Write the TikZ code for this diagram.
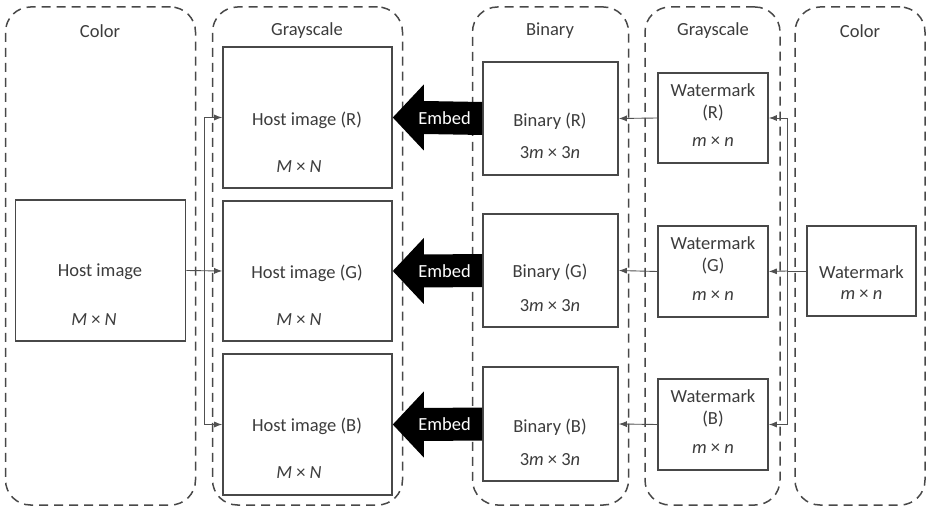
\documentclass[tikz,border=0pt]{standalone}
\usepackage{fontspec}
\setmainfont{Carlito}
\usetikzlibrary{calc,arrows.meta}
\definecolor{txtc}{HTML}{3C3C3C}
\definecolor{linec}{HTML}{484848}
\definecolor{connc}{HTML}{505050}
\newcommand{\tms}{\ ×\ }
\begin{document}
\begin{tikzpicture}[x=1pt,y=-1pt,
  every node/.style={font=\fontsize{18.5}{22}\selectfont, text=txtc, inner sep=0pt},
  panel/.style={draw=linec, line width=1.5pt, dash pattern=on 9pt off 6pt, rounded corners=25pt},
  box/.style={draw=linec, line width=1.6pt, fill=white},
  conn/.style={draw=connc, line width=0.9pt, -{Latex[length=8pt,width=6pt]}},
  plain/.style={draw=connc, line width=0.9pt},
  embedarrow/.style={fill=black},
  embedtxt/.style={text=white},
]
\useasboundingbox (0,0) rectangle (929,510);
% panels
\node[panel, minimum width=190pt, minimum height=498pt] (p1) at (100.5,256) {};
\node[panel, minimum width=190pt, minimum height=498pt] (p2) at (307.5,256) {};
\node[panel, minimum width=156pt, minimum height=498pt] (p3) at (550.5,256) {};
\node[panel, minimum width=135pt, minimum height=498pt] (p4) at (712.5,256) {};
\node[panel, minimum width=130pt, minimum height=498pt] (p5) at (860,256) {};
\node (l1) at (100,31) {Color};
\node (l2) at (307,31) {Grayscale};
\node (l3) at (550,31) {Binary};
\node (l4) at (713,31) {Grayscale};
\node (l5) at (860,31) {Color};
% host image
\node[box, minimum width=170pt, minimum height=141pt] (host) at (100.5,270.5) {};
\node (hostt) at (100,272) {Host image};
\node (hostm) at (94,320) {\textit{M}\tms\textit{N}};
% host channels
\node[box, minimum width=169pt, minimum height=141pt] (hostR) at (307.5,117.5) {};
\node[box, minimum width=169pt, minimum height=140pt] (hostG) at (307.5,271) {};
\node[box, minimum width=169pt, minimum height=141pt] (hostB) at (307.5,424.5) {};
\node (hostRt) at (307,120) {Host image (R)};
\node (hostRm) at (299,167) {\textit{M}\tms\textit{N}};
\node (hostGt) at (307,273) {Host image (G)};
\node (hostGm) at (299,320) {\textit{M}\tms\textit{N}};
\node (hostBt) at (307,426) {Host image (B)};
\node (hostBm) at (299,473) {\textit{M}\tms\textit{N}};
% binary
\node[box, minimum width=135pt, minimum height=113pt] (binR) at (550.5,118.5) {};
\node[box, minimum width=135pt, minimum height=113pt] (binG) at (550.5,270.5) {};
\node[box, minimum width=135pt, minimum height=114pt] (binB) at (550.5,424) {};
\node (binRt) at (550,121) {Binary (R)};
\node (binRm) at (550,153) {3\textit{m}\tms3\textit{n}};
\node (binGt) at (550,272) {Binary (G)};
\node (binGm) at (550,306) {3\textit{m}\tms3\textit{n}};
\node (binBt) at (550,427) {Binary (B)};
\node (binBm) at (550,460) {3\textit{m}\tms3\textit{n}};
% watermark channels
\node[box, minimum width=110pt, minimum height=90pt] (wmR) at (713,118) {};
\node[box, minimum width=110pt, minimum height=91pt] (wmG) at (713,271.5) {};
\node[box, minimum width=110pt, minimum height=91pt] (wmB) at (713,424.5) {};
\node (wmRt) at (713,90) {Watermark};
\node (wmRc) at (713,113) {(R)};
\node (wmRm) at (713,142) {\textit{m}\tms\textit{n}};
\node (wmGt) at (713,243.5) {Watermark};
\node (wmGc) at (713,266.5) {(G)};
\node (wmGm) at (713,295.5) {\textit{m}\tms\textit{n}};
\node (wmBt) at (713,396.5) {Watermark};
\node (wmBc) at (713,419.5) {(B)};
\node (wmBm) at (713,448.5) {\textit{m}\tms\textit{n}};
% watermark color
\node[box, minimum width=109pt, minimum height=90pt] (wm) at (861.5,271) {};
\node (wmt) at (861.5,272) {Watermark};
\node (wmm) at (861.5,295) {\textit{m}\tms\textit{n}};
% connectors left
\coordinate (sp1) at (204,270.5);
\draw[conn] (host.east) -- (hostG.west);
\draw[conn] (sp1) |- (hostR.west);
\draw[conn] (sp1) |- (hostB.west);
% connectors right
\coordinate (sp2) at (787,271);
\draw[plain] (wm.west) -- (sp2);
\draw[conn] (sp2) -- (wmG.east);
\draw[conn] (sp2) |- (wmR.east);
\draw[conn] (sp2) |- (wmB.east);
\draw[conn] (wmR.west) -- (binR.east);
\draw[conn] (wmG.west) -- (binG.west -| binG.east);
\draw[conn] (wmB.west) -- (binB.east);
% embed arrows
\foreach \b/\h/\n in {binR/hostR/e1, binG/hostG/e2, binB/hostB/e3}{
  \fill[embedarrow] (\h.east) -- ($(\h.east)+(31,-33)$) -- ($(\h.east)+(31,-16.5)$)
    -- ($(\b.west)+(0,-16.5)$) -- ($(\b.west)+(0,16.5)$) -- ($(\h.east)+(31,16.5)$)
    -- ($(\h.east)+(31,33)$) -- cycle;
  \node[embedtxt] (\n) at ($(\h.east)!0.5!(\b.west)+(7,0)$) {Embed};
}
\end{tikzpicture}
\end{document}
